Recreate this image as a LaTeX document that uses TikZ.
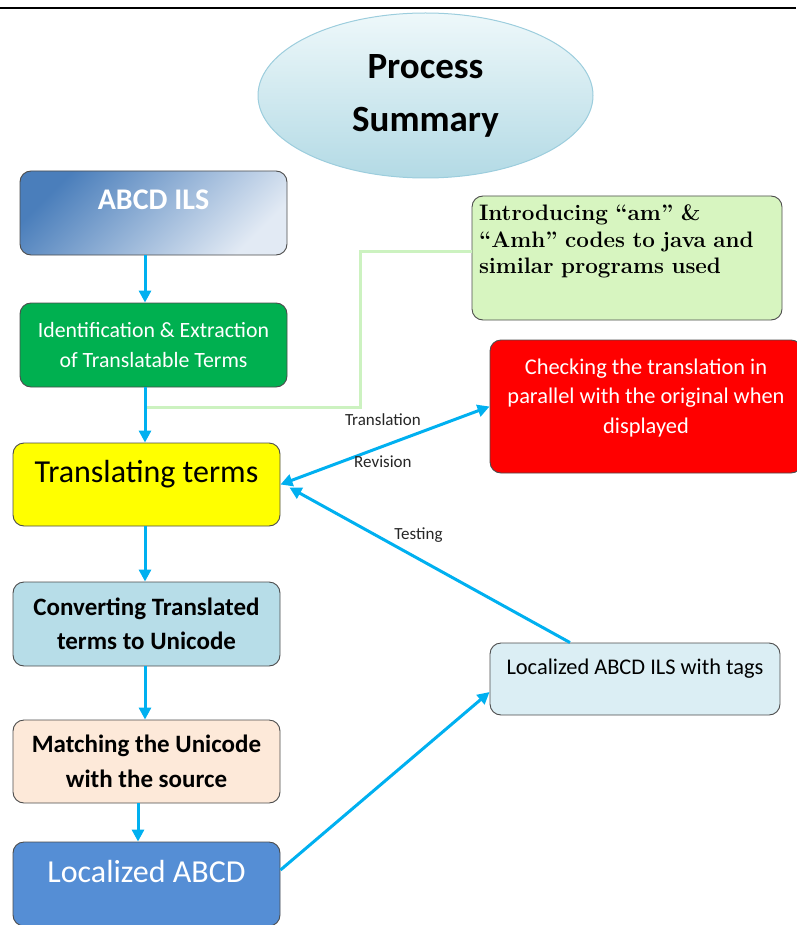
\documentclass[tikz,border=0pt]{standalone}
\usepackage{fontspec}
\setsansfont{Carlito}
\usepackage{xcolor}
\usepackage{tikz}
\usetikzlibrary{arrows.meta}
\usetikzlibrary{positioning}
\usetikzlibrary{shapes.geometric}

\definecolor{flowblue}{HTML}{00B0F0}
\definecolor{feedgreen}{HTML}{CCF2C0}
\definecolor{titletop}{HTML}{EEF8FA}
\definecolor{titlebot}{HTML}{B3DAE5}
\definecolor{titleedge}{HTML}{9CCDDD}
\definecolor{abcdtop}{HTML}{4A7EBB}
\definecolor{abcdbot}{HTML}{E2EAF4}
\definecolor{identgreen}{HTML}{00B050}
\definecolor{introgreen}{HTML}{D7F5C0}
\definecolor{checkred}{HTML}{FF0000}
\definecolor{transyellow}{HTML}{FFFF00}
\definecolor{convblue}{HTML}{B7DDE8}
\definecolor{matchpeach}{HTML}{FDE9D9}
\definecolor{locblue}{HTML}{558ED5}
\definecolor{tagsblue}{HTML}{DBEEF4}

\newcommand{\pushup}[1]{\rule[-#1]{0pt}{0pt}}

\begin{document}
\begin{tikzpicture}[
    x=1pt, y=-1pt,
    >={Triangle[length=12pt,width=12pt]},
    box/.style={rectangle, draw=black!70, line width=0.9pt, rounded corners=11pt, minimum width=267pt, minimum height=84pt, inner sep=4pt, align=center},
    flow/.style={->, draw=flowblue, line width=3pt},
    feedline/.style={draw=feedgreen, line width=3pt},
    note/.style={font=\sffamily\fontsize{17}{20}\selectfont, text=black!85}
]
\useasboundingbox (0,0) rectangle (796,925);

% Linea superior
\draw[line width=1.5pt] (0,8) -- (796,8);

% Titulo
\node[ellipse, draw=titleedge, line width=1pt, top color=titletop, bottom color=titlebot, minimum width=335pt, minimum height=165pt, align=center, font=\sffamily\bfseries\fontsize{37}{53}\selectfont] (title) at (425.5,95.5) {Process\\Summary};

% Columna izquierda
\node[box, top color=abcdtop, bottom color=abcdbot, shading angle=45, text=white, font=\sffamily\bfseries\fontsize{30}{36}\selectfont, text height=19pt, text depth=26pt] (abcd) at (153.5,213) {ABCD ILS};
\node[box, fill=identgreen, text=white, font=\sffamily\fontsize{21.8}{30}\selectfont] (ident) at (153.5,345) {Identification \& Extraction\\of Translatable Terms};
\node[box, fill=transyellow, minimum height=83pt, font=\sffamily\fontsize{32}{38}\selectfont, text height=20.6pt, text depth=25pt] (trans) at (146.5,484.5) {Translating terms};
\node[box, fill=convblue, font=\sffamily\bfseries\fontsize{25}{34}\selectfont] (conv) at (146.5,624) {Converting Translated\\terms to Unicode};
\node[box, fill=matchpeach, minimum height=83pt, font=\sffamily\bfseries\fontsize{25}{35}\selectfont] (match) at (146.5,761.5) {Matching the Unicode\\with the source};
\node[box, fill=locblue, text=white, font=\sffamily\fontsize{32}{38}\selectfont, text height=20.6pt, text depth=24pt] (loc) at (146.5,884) {Localized ABCD};

% Columna derecha
\node[box, fill=introgreen, minimum width=310pt, minimum height=124pt, text width=296pt, align=left, font=\rmfamily\bfseries\fontsize{22.4}{26.5}\selectfont] (intro) at (627,258) {Introducing “am” \&\\“Amh” codes to java and\\similar programs used\pushup{37pt}};
\node[box, fill=checkred, minimum width=312pt, minimum height=133pt, text=white, font=\sffamily\fontsize{22.4}{29.5}\selectfont] (check) at (646,406.5) {Checking the translation in\\parallel with the original when\\displayed\pushup{21pt}};
\node[box, fill=tagsblue, minimum width=290pt, minimum height=72pt, font=\sffamily\fontsize{22.4}{26}\selectfont, text height=14.4pt, text depth=24pt] (tags) at (635,679) {Localized ABCD ILS with tags};

% Linea hacia el cuadro de codigos
\coordinate (tap) at (145,407);
\coordinate (jog) at (360,251);
\draw[feedline] (tap) -| (jog) -- (jog -| intro.west);

% Flujo vertical
\draw[flow] ([xshift=-8.5pt]abcd.south) -- ([xshift=-8.5pt]ident.north);
\draw[flow] ([xshift=-8.5pt]ident.south) -- ([xshift=-1.5pt]trans.north);
\draw[flow] ([xshift=-1.5pt]trans.south) -- ([xshift=-1.5pt]conv.north);
\draw[flow] ([xshift=-1.5pt]conv.south) -- ([xshift=-1.5pt]match.north);
\draw[flow] ([xshift=-8.5pt]match.south) -- ([xshift=-8.5pt]loc.north);

% Traduccion y revision
\draw[flow, <->] (trans.east) -- (check.west)
    node[note, pos=0.49, yshift=27pt] {Translation}
    node[note, pos=0.49, yshift=-15pt] {Revision};

% Pruebas
\draw[flow] ([xshift=-65pt]tags.north) -- ([xshift=9pt, yshift=-3pt]trans.east)
    node[note, pos=0.54, yshift=24pt] {Testing};

% Hacia la version localizada con etiquetas
\draw[flow] ([yshift=14pt]loc.east) -- ([yshift=-13pt]tags.west);

\end{tikzpicture}
\end{document}
